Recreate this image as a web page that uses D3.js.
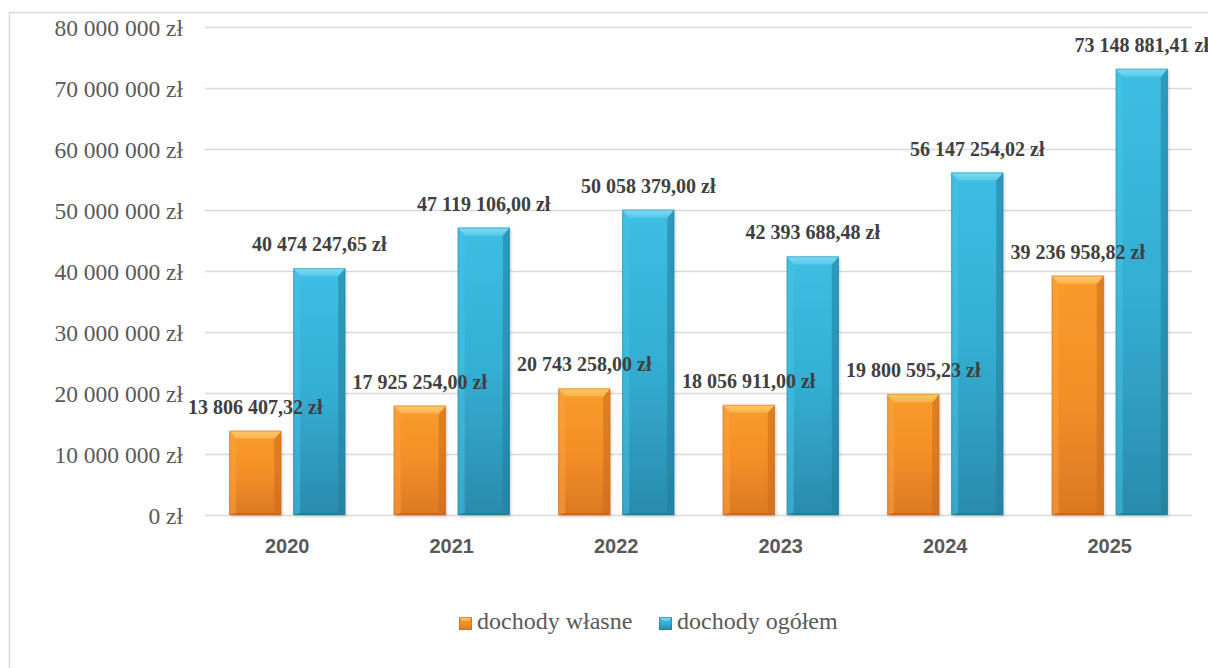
<!DOCTYPE html>
<html><head><meta charset="utf-8">
<script src="https://cdn.jsdelivr.net/npm/d3@7"></script>
<style>
html,body{margin:0;padding:0;background:#fff;}
svg{display:block;}
</style></head>
<body>
<svg id="chart" width="1208" height="668"></svg>
<script>
const categories = ["2020","2021","2022","2023","2024","2025"];
const seriesNames = ["dochody własne","dochody ogółem"];
const dochodyWlasne = [13806407.32, 17925254.00, 20743258.00, 18056911.00, 19800595.23, 39236958.82];
const dochodyOgolem = [40474247.65, 47119106.00, 50058379.00, 42393688.48, 56147254.02, 73148881.41];
const yTicks = [0,10000000,20000000,30000000,40000000,50000000,60000000,70000000,80000000];

const svg = d3.select("#chart");
const W = 1208, H = 668;
const plot = {left:205, right:1192, top:27, bottom:515};

// chart border
svg.append("rect").attr("x",9.5).attr("y",12.5).attr("width",W+20).attr("height",H+20)
  .attr("fill","#fff").attr("stroke","#D9D9D9").attr("stroke-width",1.5);

const defs = svg.append("defs");
function grad(id, stops, x2, y2){
  const g = defs.append("linearGradient").attr("id",id)
    .attr("x1",0).attr("y1",0).attr("x2",x2).attr("y2",y2);
  stops.forEach(s=>g.append("stop").attr("offset",s[0]).attr("stop-color",s[1]));
}
grad("gOrange",[[0,"#F99B2C"],[0.5,"#F48F26"],[1,"#DC7824"]],0,1);
grad("gBlue",[[0,"#3DBEE3"],[0.5,"#34AED3"],[1,"#2A8BAC"]],0,1);
grad("gOrangeTop",[[0,"#FDC76C"],[1,"#FBB24A"]],0,1);
grad("gBlueTop",[[0,"#80D9F2"],[1,"#55CAEB"]],0,1);
const filt = defs.append("filter").attr("id","shadow").attr("x","-20%").attr("y","-20%").attr("width","140%").attr("height","140%");
filt.append("feDropShadow").attr("dx",1).attr("dy",1.5).attr("stdDeviation",1.5).attr("flood-color","#000").attr("flood-opacity",0.22);

const fills = [
  {body:"url(#gOrange)", top:"url(#gOrangeTop)", light:"#FBA440", side:"#C96A1E", edge:"#B65F1C"},
  {body:"url(#gBlue)", top:"url(#gBlueTop)", light:"#45C4E7", side:"#227C9C", edge:"#1E6F8B"}
];

const x0 = d3.scaleBand().domain(categories).range([plot.left, plot.right])
  .paddingInner(0.295).paddingOuter(0.1475);
const x1 = d3.scaleBand().domain(seriesNames).range([0, x0.bandwidth()]).paddingInner(0.1875).paddingOuter(0);
const y = d3.scaleLinear().domain([0,80000000]).range([plot.bottom, plot.top]);

// gridlines
svg.append("g").selectAll("line").data(yTicks).join("line")
  .attr("x1",plot.left).attr("x2",plot.right)
  .attr("y1",d=>Math.round(y(d))+0.5).attr("y2",d=>Math.round(y(d))+0.5)
  .attr("stroke","#D9D9D9").attr("stroke-width",1.5);

// y axis labels
const fmtPL = v => d3.format(",")(v).replace(/,/g," ") + " zł";
const yAxis = d3.axisLeft(y).tickValues(yTicks).tickSize(0).tickPadding(0).tickFormat(fmtPL);
const ya = svg.append("g").attr("transform",`translate(183,0)`).call(yAxis);
ya.select(".domain").remove();
ya.selectAll("text").attr("font-family","'Liberation Serif','Times New Roman',serif")
  .attr("font-size",23.5).attr("fill","#595959").attr("dy","0.34em");

// x axis labels
const xAxis = d3.axisBottom(x0).tickSize(0).tickPadding(0);
const xa = svg.append("g").attr("transform",`translate(0,${plot.bottom})`).call(xAxis);
xa.select(".domain").remove();
xa.selectAll("text").attr("font-family","'Liberation Sans',Arial,sans-serif").attr("font-weight","bold")
  .attr("font-size",20).attr("fill","#595959").attr("dy",0).attr("y",38);

// bars
const data = categories.map((c,i)=>({cat:c, vals:[dochodyWlasne[i], dochodyOgolem[i]]}));
const groups = svg.append("g").selectAll("g").data(data).join("g")
  .attr("transform",d=>`translate(${x0(d.cat)},0)`);

const bev = 8, side = 7;
groups.each(function(d){
  const g = d3.select(this);
  d.vals.forEach((v,si)=>{
    const bx = x1(seriesNames[si]), bw = x1.bandwidth();
    const by = y(v), bh = y(0)-y(v);
    const f = fills[si];
    const bar = g.append("g");
    bar.append("rect").attr("x",bx).attr("y",by).attr("width",bw).attr("height",bh)
      .attr("fill",f.body).attr("filter","url(#shadow)");
    bar.append("polygon").attr("points",[[bx,by],[bx+side,by+bev],[bx+side,by+bh-2],[bx,by+bh]].join(" "))
      .attr("fill",f.light).attr("opacity",0.5);
    bar.append("polygon").attr("points",[[bx+bw,by],[bx+bw-side,by+bev],[bx+bw-side,by+bh-2],[bx+bw,by+bh]].join(" "))
      .attr("fill",f.side).attr("opacity",0.55);
    bar.append("polygon").attr("points",[[bx,by+bh],[bx+side,by+bh-2],[bx+bw-side,by+bh-2],[bx+bw,by+bh]].join(" "))
      .attr("fill",f.edge).attr("opacity",0.5);
    bar.append("polygon").attr("points",[[bx,by],[bx+bw,by],[bx+bw-side,by+bev],[bx+side,by+bev]].join(" "))
      .attr("fill",f.top);
    bar.append("rect").attr("x",bx+0.5).attr("y",by+0.5).attr("width",bw-1).attr("height",bh-1)
      .attr("fill","none").attr("stroke",f.edge).attr("stroke-opacity",0.35).attr("stroke-width",1);
  });
});

// value labels (drawn after bars)
const fmtVal = v => {
  const s = d3.format(",.2f")(v);
  const [i,dec] = s.split(".");
  return i.replace(/,/g," ") + "," + dec + " zł";
};
const lab = svg.append("g");
data.forEach(d=>{
  d.vals.forEach((v,si)=>{
    lab.append("text")
      .attr("x", x0(d.cat)+x1(seriesNames[si])+x1.bandwidth()/2)
      .attr("y", y(v)-17)
      .attr("text-anchor","middle")
      .attr("font-family","'Liberation Serif','Times New Roman',serif")
      .attr("font-weight","bold").attr("font-size",20)
      .attr("fill","#404040").text(fmtVal(v));
  });
});

// legend
const legend = svg.append("g");
const legItems = [{x:459, tx:477},{x:659, tx:677}];
seriesNames.forEach((n,i)=>{
  const f = fills[i];
  const lx = legItems[i].x, ly = 617, s = 13;
  legend.append("rect").attr("x",lx).attr("y",ly).attr("width",s).attr("height",s).attr("fill",f.body);
  legend.append("polygon").attr("points",[[lx,ly],[lx+s,ly],[lx+s-4,ly+4],[lx+4,ly+4]].join(" ")).attr("fill",f.top);
  legend.append("rect").attr("x",lx+0.5).attr("y",ly+0.5).attr("width",s-1).attr("height",s-1).attr("fill","none").attr("stroke",f.edge).attr("stroke-opacity",0.5);
  legend.append("text").attr("x",legItems[i].tx).attr("y",629)
    .attr("font-family","'Liberation Serif','Times New Roman',serif").attr("font-size",24)
    .attr("fill","#595959").text(n);
});
</script>
</body></html>
